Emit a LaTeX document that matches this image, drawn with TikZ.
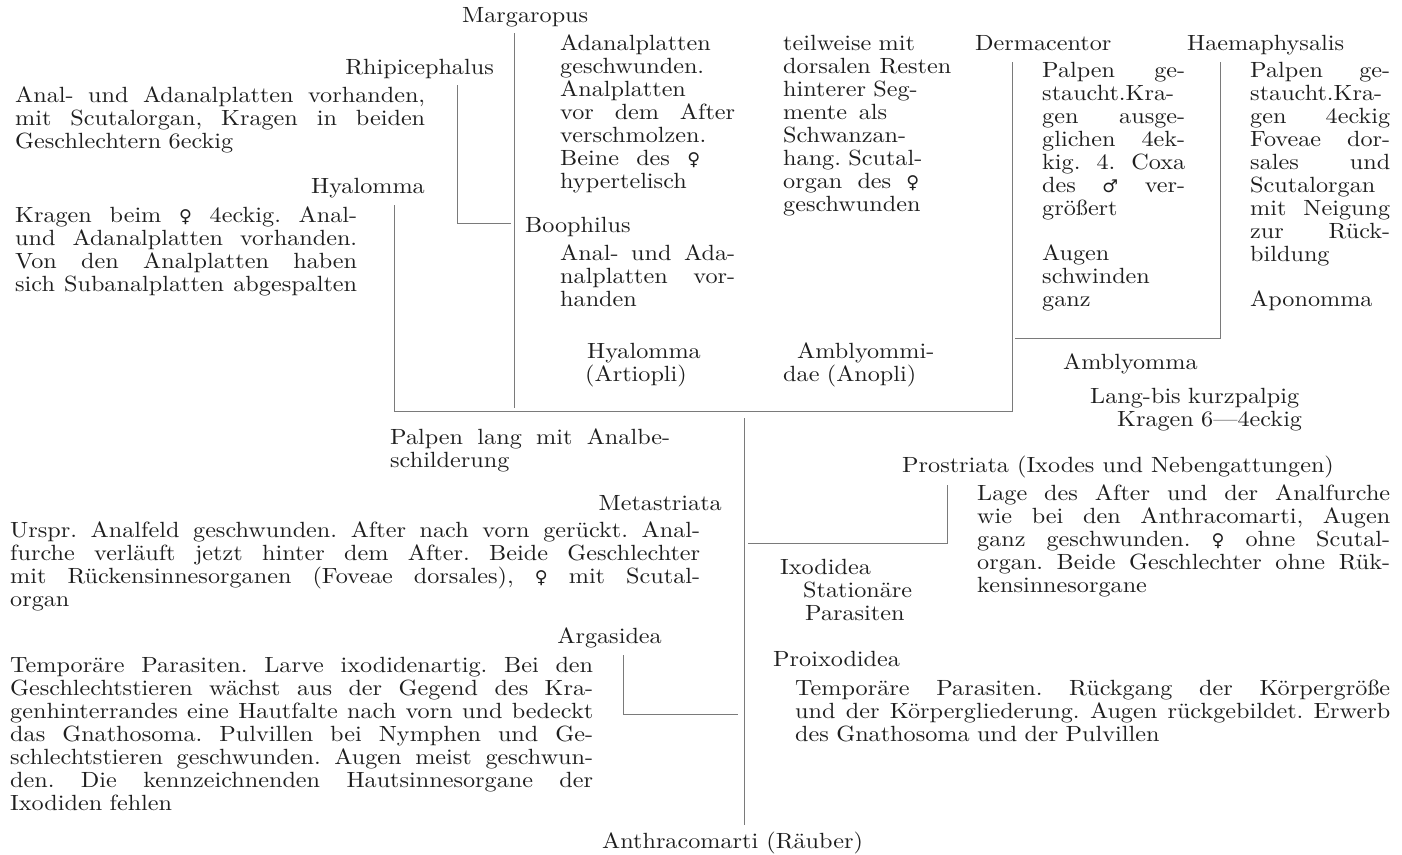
\documentclass[tikz,border=0pt]{standalone}
\usepackage{tikz}
\usepackage{fontspec}
\setmainfont{lmroman10-regular.otf}[FakeStretch=1.1]
\newfontfamily\symf{DejaVu Sans}[Scale=0.8]
\definecolor{ink}{HTML}{1E1E1E}
\definecolor{linegray}{HTML}{7A7A7A}
\newcommand\tfont{\fontsize{22}{23}\selectfont\frenchspacing}
% one justified line of a block, \blkw is set by the blk style
\newcommand\blkw{100pt}
\newcommand\jw[2]{\makebox[#1][s]{\spaceskip=0pt\xspaceskip=0pt #2}}
\newcommand\jl[1]{\jw{\blkw}{#1}}
\newcommand\wsym{{\symf ♀}}
\newcommand\msym{{\symf ♂}}
\tikzset{lbl/.style={inner sep=0pt, anchor=base west, font=\tfont, text=ink},
         lblr/.style={lbl, anchor=base east},
         blk/.style={lbl, text width=#1, align=left,
                     execute at begin node={\def\blkw{#1}}},
         ast/.style={draw=linegray, line width=0.9pt}}

\begin{document}
\begin{tikzpicture}[x=1pt,y=-1pt]
\useasboundingbox (0,0) rectangle (1402,854);
% Metastriata
\node[lbl] (marg) at (462,22) {Margaropus};
\node[lblr] (rhip) at (494,74) {Rhipicephalus};
\node[blk=410pt] (rhipt) at (15,102) {\jl{Anal- und Adanalplatten vorhanden,}\\
  \jl{mit Scutalorgan, Kragen in beiden}\\
  Geschlechtern 6eckig};
\node[lblr] (hyal) at (425,193) {Hyalomma};
\node[blk=342pt] (hyalt) at (15,222) {\jl{Kragen beim \wsym\ 4eckig. Anal-}\\
  \jl{und Adanalplatten vorhanden.}\\
  \jl{Von den Analplatten haben}\\
  \jl{sich Subanalplatten abgespalten}};
\node[blk=175pt] (margt) at (560,50) {Adanalplatten\\
  geschwunden.\\
  Analplatten\\
  \jl{vor dem After}\\
  verschmolzen.\\
  \jw{140pt}{Beine des \wsym}\\
  hypertelisch};
\node[blk=168pt] (schw) at (783,50) {teilweise mit\\
  \jl{dorsalen Resten}\\
  hinterer Seg-\\
  \jw{104pt}{mente als}\\
  Schwanzan-\\
  hang. Scutal-\\
  \jw{136pt}{organ des \wsym}\\
  geschwunden};
\node[lbl] (booph) at (525,232) {Boophilus};
\node[blk=175pt] (boopht) at (560,260) {\jl{Anal- und Ada-}\\
  \jl{nalplatten vor-}\\
  handen};
\node[blk=140pt] (artio) at (585,358) {\hspace*{2pt}Hyalomma\\ (Artiopli)};
\node[blk=160pt] (anopl) at (783,358) {\hspace*{14pt}Amblyommi-\\ dae (Anopli)};
\node[lbl] (derm) at (975,50) {Dermacentor};
\node[lbl] (haem) at (1187,50) {Haemaphysalis};
\node[blk=143pt] (dermt) at (1042,77) {\jl{Palpen ge-}\\
  \jl{staucht.Kra-}\\
  \jl{gen ausge-}\\
  \jl{glichen 4ek-}\\
  \jl{kig. 4. Coxa}\\
  \jl{des \msym\ ver-}\\
  größert};
\node[blk=143pt] (augen) at (1042,260) {Augen\\ schwinden\\ ganz};
\node[blk=140pt] (haemt) at (1250,77) {\jl{Palpen ge-}\\
  \jl{staucht.Kra-}\\
  \jl{gen 4eckig}\\
  \jl{Foveae dor-}\\
  \jl{sales und}\\
  Scutalorgan\\
  \jl{mit Neigung}\\
  \jl{zur Rück-}\\
  bildung};
\node[lbl] (apon) at (1250,306) {Aponomma};
\node[lbl] (ambl) at (1063,369) {Amblyomma};
\node[blk=230pt] (amblt) at (1090,403) {Lang-bis kurzpalpig\\ \hspace*{27pt}Kragen 6—4eckig};
\node[blk=300pt] (palp) at (390,444) {\jw{280pt}{Palpen lang mit Analbe-}\\ schilderung};
\node[lblr] (meta) at (722,510) {Metastriata};
\node[blk=690pt] (metat) at (10,537) {\jl{Urspr. Analfeld geschwunden. After nach vorn gerückt. Anal-}\\
  \jl{furche verläuft jetzt hinter dem After. Beide Geschlechter}\\
  \jl{mit Rückensinnesorganen (Foveae dorsales), \wsym\ mit Scutal-}\\
  organ};
% Prostriata und Argasidea
\node[lbl] (prost) at (902,472) {Prostriata (Ixodes und Nebengattungen)};
\node[blk=413pt] (prostt) at (977,500) {\jl{Lage des After und der Analfurche}\\
  \jl{wie bei den Anthracomarti, Augen}\\
  \jl{ganz geschwunden. \wsym\ ohne Scutal-}\\
  \jl{organ. Beide Geschlechter ohne Rük-}\\
  kensinnesorgane};
\node[blk=200pt] (ixod) at (780,574) {Ixodidea\\ \hspace*{23pt}Stationäre\\ \hspace*{25pt}Parasiten};
\node[lblr] (arga) at (662,643) {Argasidea};
\node[blk=583pt] (argat) at (10,672) {\jl{Temporäre Parasiten. Larve ixodidenartig. Bei den}\\
  \jl{Geschlechtstieren wächst aus der Gegend des Kra-}\\
  \jl{genhinterrandes eine Hautfalte nach vorn und bedeckt}\\
  \jl{das Gnathosoma. Pulvillen bei Nymphen und Ge-}\\
  \jl{schlechtstieren geschwunden. Augen meist geschwun-}\\
  \jl{den. Die kennzeichnenden Hautsinnesorgane der}\\
  Ixodiden fehlen};
\node[lbl] (proix) at (773,666) {Proixodidea};
\node[blk=595pt] (proixt) at (795,695) {\jl{Temporäre Parasiten. Rückgang der Körpergröße}\\
  \jl{und der Körpergliederung. Augen rückgebildet. Erwerb}\\
  des Gnathosoma und der Pulvillen};
\node[lbl] (anth) at (602,848) {Anthracomarti (Räuber)};
% Stammbaum
\coordinate (mtop) at (514,33);
\coordinate (mbot) at (514,408);
\coordinate (rtop) at (457,85);
\coordinate (rcor) at (457,223);
\coordinate (rend) at (511,223);
\coordinate (htop) at (394,205);
\coordinate (hcor) at (394,411);
\coordinate (dcor) at (1012,411);
\coordinate (dtop) at (1012,62);
\coordinate (aend) at (1015,338);
\coordinate (acor) at (1220,338);
\coordinate (atop) at (1220,62);
\coordinate (stop) at (744,418);
\coordinate (sbot) at (744,825);
\coordinate (pend) at (748,543);
\coordinate (pcor) at (947,543);
\coordinate (ptop) at (947,485);
\coordinate (gtop) at (623,655);
\coordinate (gcor) at (623,714);
\coordinate (gend) at (738,714);
\draw[ast] (mtop) -- (mbot);
\draw[ast] (rtop) -- (rcor) -- (rend);
\draw[ast] (htop) -- (hcor) -- (dcor) -- (dtop);
\draw[ast] (aend) -- (acor) -- (atop);
\draw[ast] (stop) -- (sbot);
\draw[ast] (pend) -- (pcor) -- (ptop);
\draw[ast] (gtop) -- (gcor) -- (gend);
\end{tikzpicture}
\end{document}
